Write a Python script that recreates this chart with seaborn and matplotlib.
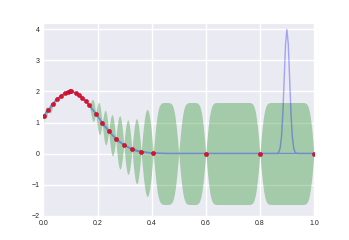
import numpy as np
import matplotlib
matplotlib.use('Agg')
import matplotlib.pyplot as plt
import seaborn as sns

# Observaciones (puntos rojos)
x_obs = [0.003, 0.018, 0.036, 0.051, 0.066, 0.079, 0.089, 0.098, 0.103, 0.119,
         0.131, 0.143, 0.157, 0.169, 0.193, 0.217, 0.241, 0.267, 0.297, 0.327,
         0.361, 0.406, 0.6, 0.8, 1.0]
y_obs = [1.20, 1.40, 1.60, 1.76, 1.86, 1.94, 1.98, 2.00, 2.00, 1.95,
         1.88, 1.79, 1.68, 1.55, 1.29, 0.97, 0.72, 0.47, 0.29, 0.13,
         0.05, 0.01, 0.0, 0.0, 0.0]

# Punto sin marcar (la banda se cierra en x = 0.5)
x_extra = [0.5]
y_extra = [0.0]

# Funcion verdadera (linea azul clara con el pico en 0.9)
x_true = [0.0, 0.025, 0.05, 0.075, 0.1, 0.125, 0.15, 0.175, 0.2, 0.225, 0.25,
          0.275, 0.3, 0.325, 0.35, 0.375, 0.4, 0.45, 0.5, 0.85, 0.86, 0.865,
          0.87, 0.875, 0.88, 0.885, 0.89, 0.895, 0.9, 0.905, 0.91, 0.915,
          0.92, 0.925, 0.93, 0.935, 0.94, 0.95, 1.0]
y_true = [1.21, 1.51, 1.77, 1.94, 2.00, 1.94, 1.77, 1.51, 1.21, 0.92, 0.65,
          0.43, 0.27, 0.16, 0.09, 0.05, 0.02, 0.0, 0.0, 0.0, 0.0, 0.002,
          0.044, 0.18, 0.54, 1.30, 2.43, 3.53, 4.00, 3.53, 2.43, 1.30,
          0.54, 0.18, 0.044, 0.008, 0.001, 0.0, 0.0]


def gp_posterior(x_train, y_train, x_test, escala=0.016, amp=1.0):
    """Media y desviacion del proceso gaussiano (kernel RBF)"""
    x_train = np.asarray(x_train)
    y_train = np.asarray(y_train)

    def kern(a, b):
        return amp * np.exp(-(a[:, None] - b[None, :]) ** 2 / (2 * escala ** 2))

    K = kern(x_train, x_train) + 1e-8 * np.eye(len(x_train))
    Ks = kern(x_test, x_train)
    alpha = np.linalg.solve(K, y_train)
    media = Ks @ alpha
    v = np.linalg.solve(K, Ks.T)
    var = amp - np.sum(Ks * v.T, axis=1)
    return media, np.sqrt(np.clip(var, 0, None))


sns.set_style('darkgrid')
plt.rcParams['font.family'] = ['Liberation Sans', 'DejaVu Sans']

fig = plt.figure(figsize=(3.49, 2.40), dpi=100)
ax = fig.add_axes([0.1246, 0.102, 0.775, 0.801])

x_grid = np.linspace(0, 1, 2000)
media, sd = gp_posterior(x_obs + x_extra, y_obs + y_extra, x_grid)

# Banda de confianza (90%)
ax.fill_between(x_grid, media - 1.645 * sd, media + 1.645 * sd,
                color='g', alpha=0.3, linewidth=0)

# Funcion verdadera
sns.lineplot(x=x_true, y=y_true, ax=ax, color='b', alpha=0.3, linewidth=1.0)

# Media del proceso
sns.lineplot(x=x_grid, y=media, ax=ax, color='#6f8fca', linewidth=1.0)

# Observaciones
sns.scatterplot(x=x_obs, y=y_obs, ax=ax, color='#e0102f', s=9,
                edgecolor='#b00020', linewidth=0.3, zorder=5)

ax.set_xlim(0, 1)
ax.set_ylim(-2, 4.2)
ax.set_xticks([0.0, 0.2, 0.4, 0.6, 0.8, 1.0])
ax.set_yticks([-2, -1, 0, 1, 2, 3, 4])
ax.set_xticklabels(['0.0', '0.2', '0.4', '0.6', '0.8', '1.0'])
ax.set_yticklabels(['\u22122', '\u22121', '0', '1', '2', '3', '4'])
ax.tick_params(labelsize=5, pad=3, colors='#262626', length=0)
ax.grid(color='white', linewidth=1.0)
ax.set_xlabel('')
ax.set_ylabel('')

fig.savefig('out.png', dpi=100)
